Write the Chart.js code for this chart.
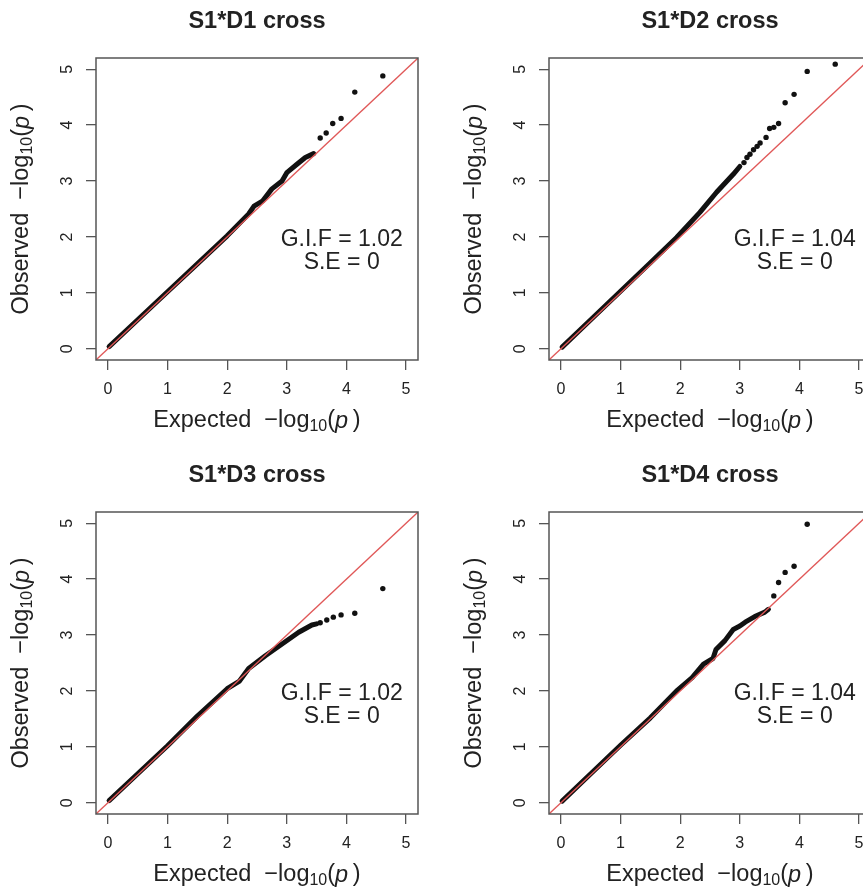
<!DOCTYPE html>
<html>
<head>
<meta charset="utf-8">
<script src="https://cdn.jsdelivr.net/npm/chart.js@4.4.0/dist/chart.umd.min.js"></script>
<style>
  html, body { margin: 0; padding: 0; background: #fff; }
  #wrap { position: relative; width: 863px; height: 889px; overflow: hidden; }
  #wrap canvas { position: absolute; }
</style>
</head>
<body>
<div id="wrap">
  <canvas id="c1" width="453" height="454" style="left:0;top:0"></canvas>
  <canvas id="c2" width="453" height="454" style="left:453px;top:0"></canvas>
  <canvas id="c3" width="453" height="454" style="left:0;top:454px"></canvas>
  <canvas id="c4" width="453" height="454" style="left:453px;top:454px"></canvas>
</div>
<script>
// tick labels and titles
const axisTicks = [0, 1, 2, 3, 4, 5];
const axisLimits = [-0.2, 5.2];
const panelTitles = ['S1*D1 cross', 'S1*D2 cross', 'S1*D3 cross', 'S1*D4 cross'];
const gifLabels = ['G.I.F = 1.02', 'G.I.F = 1.04', 'G.I.F = 1.02', 'G.I.F = 1.04'];
const seLabels = ['S.E = 0', 'S.E = 0', 'S.E = 0', 'S.E = 0'];

// dense part of each QQ curve (expected, observed)
const bulk1X = [0.02, 0.5, 1.0, 1.5, 2.0, 2.36, 2.45, 2.59, 2.75, 2.92, 3.0, 3.17, 3.31, 3.45];
const bulk1Y = [0.04, 0.52, 1.02, 1.52, 2.02, 2.41, 2.55, 2.64, 2.86, 3.0, 3.15, 3.3, 3.42, 3.49];
const bulk2X = [0.02, 0.5, 1.0, 1.5, 1.94, 2.33, 2.61, 2.89, 3.0];
const bulk2Y = [0.03, 0.52, 1.03, 1.54, 1.99, 2.44, 2.8, 3.12, 3.26];
const bulk3X = [0.02, 0.5, 1.0, 1.5, 2.0, 2.2, 2.36, 2.64, 2.92, 3.2, 3.42, 3.5];
const bulk3Y = [0.04, 0.52, 1.02, 1.55, 2.04, 2.17, 2.4, 2.63, 2.84, 3.05, 3.18, 3.2];
const bulk4X = [0.02, 0.5, 1.0, 1.5, 1.96, 2.2, 2.39, 2.55, 2.6, 2.75, 2.89, 3.0, 3.09, 3.25, 3.42, 3.48];
const bulk4Y = [0.03, 0.52, 1.03, 1.52, 2.02, 2.24, 2.48, 2.58, 2.74, 2.9, 3.1, 3.16, 3.23, 3.33, 3.41, 3.46];

// separate points in the upper tail
const tail1X = [3.56, 3.66, 3.77, 3.91, 4.14, 4.61];
const tail1Y = [3.77, 3.86, 4.03, 4.12, 4.59, 4.88];
const tail2X = [3.07, 3.12, 3.17, 3.23, 3.29, 3.34, 3.44, 3.5, 3.57, 3.65, 3.76, 3.91, 4.13, 4.6];
const tail2Y = [3.33, 3.42, 3.48, 3.56, 3.62, 3.68, 3.78, 3.94, 3.96, 4.03, 4.4, 4.55, 4.96, 5.09];
const tail3X = [3.56, 3.67, 3.78, 3.91, 4.14, 4.61];
const tail3Y = [3.22, 3.27, 3.32, 3.36, 3.39, 3.83];
const tail4X = [3.57, 3.65, 3.76, 3.91, 4.13];
const tail4Y = [3.7, 3.94, 4.12, 4.23, 4.98];

const bulks = [[bulk1X, bulk1Y], [bulk2X, bulk2Y], [bulk3X, bulk3Y], [bulk4X, bulk4Y]];
const tails = [[tail1X, tail1Y], [tail2X, tail2Y], [tail3X, tail3Y], [tail4X, tail4Y]];

// where the G.I.F / S.E note sits, in axis units
const noteX = 3.92, noteY1 = 1.96, noteY2 = 1.54;

const FONT = '"Liberation Sans", Arial, Helvetica, sans-serif';
const INK = '#222';

function fontOf(p) {
  return (p.i ? 'italic ' : '') + (p.b ? 'bold ' : '') + p.s + 'px ' + FONT;
}

// draws a row of text pieces centred on (cx, cy)
function drawRich(ctx, parts, cx, cy) {
  let w = 0;
  parts.forEach(p => { ctx.font = fontOf(p); p.w = ctx.measureText(p.t).width; w += p.w; });
  let x = cx - w / 2;
  ctx.textAlign = 'left';
  ctx.textBaseline = 'middle';
  parts.forEach(p => {
    ctx.font = fontOf(p);
    ctx.fillText(p.t, x, cy + (p.dy || 0));
    x += p.w;
  });
}

function axisTitle(word) {
  return [
    { t: word + '  ', s: 23.5 },
    { t: '\u2212log', s: 23.5 },
    { t: '10', s: 16, dy: 6 },
    { t: '(', s: 23.5 },
    { t: 'p', s: 23.5, i: true },
    { t: '\u2009)', s: 23.5 }
  ];
}

const decor = {
  id: 'decor',
  afterDraw(chart, args, opts) {
    const { ctx, chartArea: a } = chart;
    const xs = chart.scales.x, ys = chart.scales.y;
    ctx.save();
    // box
    ctx.strokeStyle = '#555';
    ctx.lineWidth = 1.5;
    ctx.strokeRect(a.left, a.top, a.right - a.left, a.bottom - a.top);

    ctx.fillStyle = INK;
    // title
    drawRich(ctx, [{ t: opts.title, s: 23.5, b: true }], (a.left + a.right) / 2, a.top - 36);

    // tick labels
    axisTicks.forEach(v => {
      drawRich(ctx, [{ t: String(v), s: 16 }], xs.getPixelForValue(v), a.bottom + 30);
      ctx.save();
      ctx.translate(a.left - 28, ys.getPixelForValue(v));
      ctx.rotate(-Math.PI / 2);
      drawRich(ctx, [{ t: String(v), s: 16 }], 0, 0);
      ctx.restore();
    });

    // axis titles
    drawRich(ctx, axisTitle('Expected'), (a.left + a.right) / 2, a.bottom + 61);
    ctx.save();
    ctx.translate(a.left - 74, (a.top + a.bottom) / 2);
    ctx.rotate(-Math.PI / 2);
    drawRich(ctx, axisTitle('Observed'), 0, 0);
    ctx.restore();

    // note
    drawRich(ctx, [{ t: opts.gif, s: 23 }], xs.getPixelForValue(noteX), ys.getPixelForValue(noteY1));
    drawRich(ctx, [{ t: opts.se, s: 23 }], xs.getPixelForValue(noteX), ys.getPixelForValue(noteY2));
    ctx.restore();
  }
};

function toPoints(xsArr, ysArr) {
  return xsArr.map((x, i) => ({ x: x, y: ysArr[i] }));
}

function axisOpts(isX) {
  return {
    type: 'linear',
    min: axisLimits[0],
    max: axisLimits[1],
    afterBuildTicks: s => { s.ticks = axisTicks.map(v => ({ value: v })); },
    afterFit: s => { if (isX) s.height = 94; else s.width = 96; },
    ticks: { display: false },
    grid: { drawOnChartArea: false, drawTicks: true, tickLength: 10, color: '#555', lineWidth: 1.3 },
    border: { display: false }
  };
}

['c1', 'c2', 'c3', 'c4'].forEach((id, k) => {
  new Chart(document.getElementById(id), {
    type: 'scatter',
    data: {
      datasets: [
        {
          // y = x reference line
          data: toPoints(axisLimits, axisLimits),
          showLine: true,
          borderColor: '#e05858',
          borderWidth: 1.3,
          pointRadius: 0
        },
        {
          data: toPoints(bulks[k][0], bulks[k][1]),
          showLine: true,
          borderColor: '#111',
          borderWidth: 5,
          borderCapStyle: 'round',
          borderJoinStyle: 'round',
          pointRadius: 0
        },
        {
          data: toPoints(tails[k][0], tails[k][1]),
          backgroundColor: '#111',
          borderWidth: 0,
          pointRadius: 2.7
        }
      ]
    },
    options: {
      responsive: false,
      animation: false,
      devicePixelRatio: 1,
      layout: { padding: { left: 0, top: 58, right: 35, bottom: 0 } },
      plugins: {
        legend: { display: false },
        tooltip: { enabled: false },
        decor: { title: panelTitles[k], gif: gifLabels[k], se: seLabels[k] }
      },
      scales: { x: axisOpts(true), y: axisOpts(false) }
    },
    plugins: [decor]
  });
});
</script>
</body>
</html>
